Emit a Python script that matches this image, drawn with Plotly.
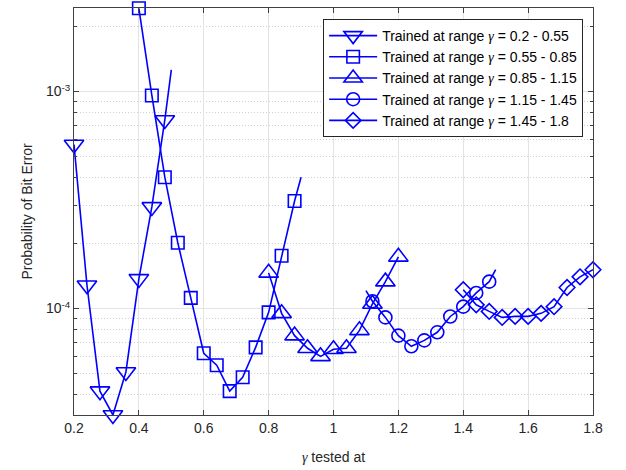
import numpy as np
import plotly.graph_objects as go

# ---- data ----
labels = ["0.2 - 0.55", "0.55 - 0.85", "0.85 - 1.15", "1.15 - 1.45", "1.45 - 1.8"]

x1 = [0.20, 0.24, 0.28, 0.32, 0.36, 0.40, 0.44, 0.48, 0.50]
y1 = [5.7e-4, 1.28e-4, 4.16e-5, 3.23e-5, 5.1e-5, 1.37e-4, 2.94e-4, 7.4e-4, 1.26e-3]

x2 = [0.40, 0.44, 0.48, 0.52, 0.56, 0.60, 0.64, 0.68, 0.72, 0.76, 0.80, 0.84, 0.88, 0.90]
y2 = [2.42e-3, 9.6e-4, 4.03e-4, 2.01e-4, 1.12e-4, 6.22e-5, 5.48e-5, 4.16e-5, 4.82e-5,
      6.62e-5, 9.6e-5, 1.75e-4, 3.13e-4, 4.03e-4]

x3 = [0.80, 0.84, 0.88, 0.92, 0.96, 1.00, 1.04, 1.08, 1.12, 1.16, 1.20]
y3 = [1.46e-4, 9.5e-5, 7.5e-5, 6.56e-5, 6.02e-5, 6.49e-5, 6.56e-5, 7.93e-5, 1.05e-4,
      1.33e-4, 1.73e-4]

x4 = [1.10, 1.12, 1.16, 1.20, 1.24, 1.28, 1.32, 1.36, 1.40, 1.44, 1.48, 1.50]
y4 = [1.21e-4, 1.08e-4, 9.1e-5, 7.5e-5, 6.7e-5, 7.13e-5, 7.77e-5, 9.19e-5, 1.02e-4,
      1.18e-4, 1.33e-4, 1.51e-4]

x5 = [1.40, 1.44, 1.48, 1.52, 1.56, 1.60, 1.64, 1.68, 1.72, 1.76, 1.80]
y5 = [1.22e-4, 1.04e-4, 9.7e-5, 9.1e-5, 9.2e-5, 9.2e-5, 9.5e-5, 1.02e-4, 1.25e-4,
      1.40e-4, 1.51e-4]

# test points that only carry the line (no marker drawn)
line_only_x = [0.50, 0.90, 1.10, 1.50]

x_ticks = [0.2, 0.4, 0.6, 0.8, 1.0, 1.2, 1.4, 1.6, 1.8]
x_ticktext = ["0.2", "0.4", "0.6", "0.8", "1", "1.2", "1.4", "1.6", "1.8"]
y_ticks = [1e-4, 1e-3]
y_ticktext = ["10<sup>-4</sup>", "10<sup>-3</sup>"]

# ---- styling ----
BLUE = "#0000ff"
FONT = "Liberation Sans, Arial, Helvetica, sans-serif"
GAMMA = "<span style=\"font-family:'Liberation Serif', 'DejaVu Serif', serif;font-style:italic\">γ</span>"
series = [(x1, y1, "triangle-down-open", 17),
          (x2, y2, "square-open", 12.5),
          (x3, y3, "triangle-up-open", 17),
          (x4, y4, "circle-open", 13),
          (x5, y5, "diamond-open", 12)]

fig = go.Figure()
for (xs, ys, sym, size), lab in zip(series, labels):
    marked = [i for i, x in enumerate(xs)
              if not any(abs(x - e) < 1e-9 for e in line_only_x)]
    fig.add_trace(go.Scatter(
        x=xs, y=ys, mode="lines+markers",
        name="Trained at range " + GAMMA + " = " + lab,
        line=dict(color=BLUE, width=1.6),
        marker=dict(symbol=sym, size=size, color=BLUE, line=dict(width=1.6)),
        selectedpoints=marked,
        selected=dict(marker=dict(opacity=1)),
        unselected=dict(marker=dict(opacity=0)),
        cliponaxis=False,
    ))

minor_vals = [m * 10.0 ** e for e in (-5, -4, -3) for m in range(2, 10)]

axis_common = dict(showline=True, linecolor="#404040", linewidth=1, mirror="ticks",
                   ticks="inside", tickcolor="#404040", ticklen=5,
                   tickfont=dict(family=FONT, size=14, color="#262626"),
                   zeroline=False)

fig.update_xaxes(range=[0.2, 1.8], tickmode="array", tickvals=x_ticks, ticktext=x_ticktext,
                 showgrid=True, gridcolor="#e3e3e3", gridwidth=1,
                 title=dict(text=GAMMA + " tested at", standoff=17,
                            font=dict(family=FONT, size=14, color="#262626")),
                 **axis_common)
fig.update_yaxes(type="log", range=[-4.4908, -2.6147], tickmode="array",
                 tickvals=y_ticks, ticktext=y_ticktext,
                 showgrid=True, gridcolor="#e3e3e3", gridwidth=1,
                 minor=dict(tickmode="array", tickvals=minor_vals, ticks="inside",
                            ticklen=3, tickcolor="#404040", showgrid=True,
                            gridcolor="#d0d0d0", griddash="1px,2px", gridwidth=1),
                 title=dict(text="Probability of Bit Error", standoff=10,
                            font=dict(family=FONT, size=14, color="#262626")),
                 **axis_common)

fig.update_layout(
    width=626, height=470,
    margin=dict(l=74, r=33, t=7, b=54),
    paper_bgcolor="white", plot_bgcolor="white",
    font=dict(family=FONT, size=14, color="#262626"),
    legend=dict(x=0.981, y=0.973, xanchor="right", yanchor="top",
                bgcolor="white", bordercolor="#262626", borderwidth=1,
                font=dict(family=FONT, size=14, color="black"),
                itemwidth=48, tracegroupgap=0),
    showlegend=True,
)

fig.write_html("out.html")
